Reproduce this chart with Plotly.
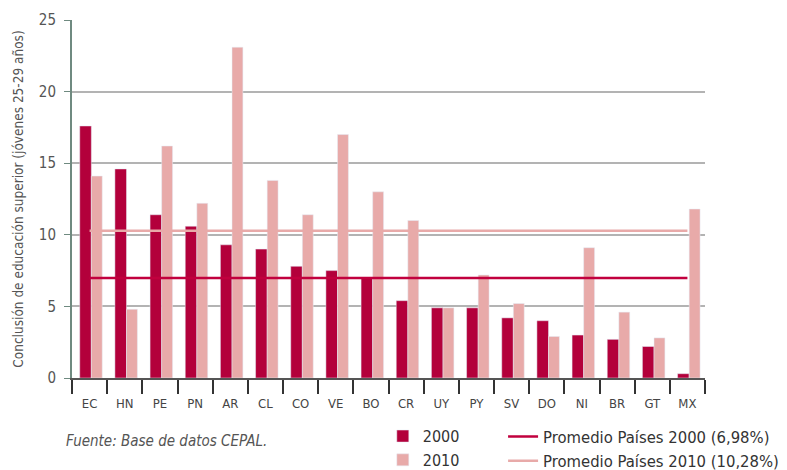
import plotly.graph_objects as go

paises = ["EC", "HN", "PE", "PN", "AR", "CL", "CO", "VE", "BO", "CR",
          "UY", "PY", "SV", "DO", "NI", "BR", "GT", "MX"]
valores_2000 = [17.6, 14.6, 11.4, 10.6, 9.3, 9.0, 7.8, 7.5, 7.0, 5.4,
                4.9, 4.9, 4.2, 4.0, 3.0, 2.7, 2.2, 0.3]
valores_2010 = [14.1, 4.8, 16.2, 12.2, 23.1, 13.8, 11.4, 17.0, 13.0, 11.0,
                4.9, 7.2, 5.2, 2.9, 9.1, 4.6, 2.8, 11.8]
promedio_2000 = 6.98
promedio_2010 = 10.28

OSCURO = "#b3003b"
CLARO = "#e8aaa9"
LINEA_OSC = "#c1003e"
FONT = "DejaVu Sans Condensed, Liberation Sans Narrow, Arial Narrow, sans-serif"

fig = go.Figure()
fig.add_trace(go.Bar(x=paises, y=valores_2000, name="2000", marker_color=OSCURO,
                     width=0.33, offset=-0.28, legend="legend"))
fig.add_trace(go.Bar(x=paises, y=valores_2010, name="2010", marker_color=CLARO,
                     width=0.31, offset=0.05, legend="legend"))
fig.add_trace(go.Scatter(x=[paises[0], paises[-1]], y=[promedio_2010] * 2, mode="lines",
                         line=dict(color=CLARO, width=2.5),
                         name="Promedio Países 2010 (10,28%)", legend="legend2"))
fig.add_trace(go.Scatter(x=[paises[0], paises[-1]], y=[promedio_2000] * 2, mode="lines",
                         line=dict(color=LINEA_OSC, width=2.5),
                         name="Promedio Países 2000 (6,98%)", legend="legend2"))

fig.update_layout(
    width=787, height=470,
    margin=dict(l=64, r=90, t=12, b=100, autoexpand=False),
    paper_bgcolor="white", plot_bgcolor="white",
    font=dict(family=FONT, color="#444444", size=13),
    barmode="overlay",
    showlegend=True,
    legend=dict(x=0.491, y=-0.115, xanchor="left", yanchor="top",
                font=dict(size=16, color="#333333"), bgcolor="rgba(0,0,0,0)",
                tracegroupgap=0, itemwidth=30),
    legend2=dict(x=0.681, y=-0.115, xanchor="left", yanchor="top",
                 font=dict(size=16.5, color="#333333"), bgcolor="rgba(0,0,0,0)",
                 traceorder="reversed", itemwidth=30),
    annotations=[dict(text="<i>Fuente: Base de datos CEPAL.</i>", xref="paper", yref="paper",
                      x=-0.012, y=-0.175, xanchor="left", yanchor="middle", showarrow=False,
                      font=dict(size=15, color="#555555"))],
)
fig.update_xaxes(type="category", tickson="boundaries", ticks="outside", ticklen=14,
                 tickcolor="#333333", tickwidth=1.5, showline=True, linecolor="#555555",
                 linewidth=1.5, showgrid=False, ticklabelstandoff=13,
                 tickfont=dict(size=13, color="#444444"))
fig.update_yaxes(range=[0, 25], tickvals=[0, 5, 10, 15, 20, 25], ticks="outside", ticklen=6,
                 tickcolor="#6f8a80", showline=True, linecolor="#6f8a80", linewidth=2,
                 showgrid=True, gridcolor="#b3b3b3", gridwidth=1.5, zeroline=False,
                 ticklabelstandoff=5,
                 tickfont=dict(size=15, color="#555555"),
                 title=dict(text="Conclusión de educación superior (jóvenes 25-29 años)",
                            font=dict(size=13.5, color="#555555"), standoff=12))

fig.write_html("out.html")
